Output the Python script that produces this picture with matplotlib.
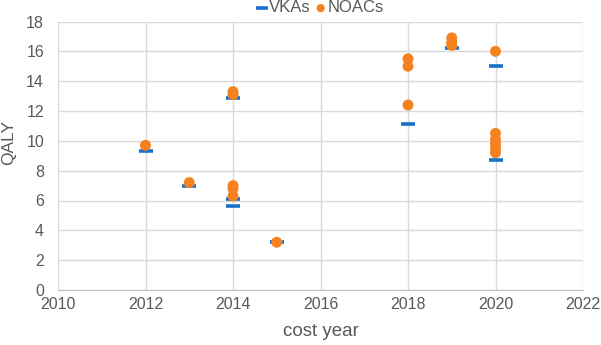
import matplotlib
matplotlib.use("Agg")
import matplotlib.pyplot as plt

plt.rcParams['font.family'] = ['Liberation Sans', 'DejaVu Sans']

vka_year = [2012, 2013, 2014, 2014, 2014, 2015, 2018, 2019, 2020, 2020]
vka_qaly = [9.3, 7.0, 12.9, 6.1, 5.6, 3.2, 11.1, 16.2, 15.0, 8.7]

noac_year = [2012, 2013, 2014, 2014, 2014, 2014, 2014, 2015,
             2018, 2018, 2018, 2019, 2019, 2019,
             2020, 2020, 2020, 2020, 2020, 2020]
noac_qaly = [9.7, 7.2, 13.3, 13.1, 7.0, 6.8, 6.3, 3.2,
             15.5, 15.0, 12.4, 16.9, 16.6, 16.4,
             16.0, 10.5, 10.1, 9.8, 9.5, 9.2]

blue = '#1a6fc9'
orange = '#f5821f'
grey = '#595959'

W, H = 601, 345
fig = plt.figure(figsize=(W / 100, H / 100), dpi=100)
ax = fig.add_axes([58 / W, 1 - 290 / H, 525 / W, 268.5 / H])

ax.scatter(vka_year, vka_qaly, marker='_', s=112, linewidths=2.6,
           color=blue, label='VKAs', zorder=3)
ax.scatter(noac_year, noac_qaly, marker='o', s=62, color=orange,
           edgecolors='none', label='NOACs', zorder=4)

ax.set_xlim(2010, 2022)
ax.set_ylim(0, 18)
ax.set_xticks(range(2010, 2023, 2))
ax.set_yticks(range(0, 19, 2))
ax.grid(True, color='#d9d9d9', linewidth=1)
ax.set_axisbelow(True)
for side in ['top', 'right', 'left']:
    ax.spines[side].set_visible(False)
ax.spines['bottom'].set_color('#bfbfbf')
ax.tick_params(axis='x', length=0, labelsize=11.5, colors=grey, pad=5)
ax.tick_params(axis='y', length=0, labelsize=11.5, colors=grey, pad=10)

ax.set_xlabel('cost year', fontsize=13.5, color=grey)
ax.xaxis.set_label_coords(0.5, -0.123)
ax.set_ylabel('QALY', fontsize=12.5, color=grey)
ax.yaxis.set_label_coords(-0.079, 0.551)

fig.legend(*ax.get_legend_handles_labels(), loc='center',
           bbox_to_anchor=(320.5 / W, 1 - 8 / H), ncol=2,
           frameon=False, fontsize=12, handletextpad=0.1, columnspacing=0.3,
           handlelength=0.6, borderaxespad=0, borderpad=0,
           labelcolor=grey, markerscale=0.75)

fig.savefig('out.png', dpi=100)
plt.close(fig)
